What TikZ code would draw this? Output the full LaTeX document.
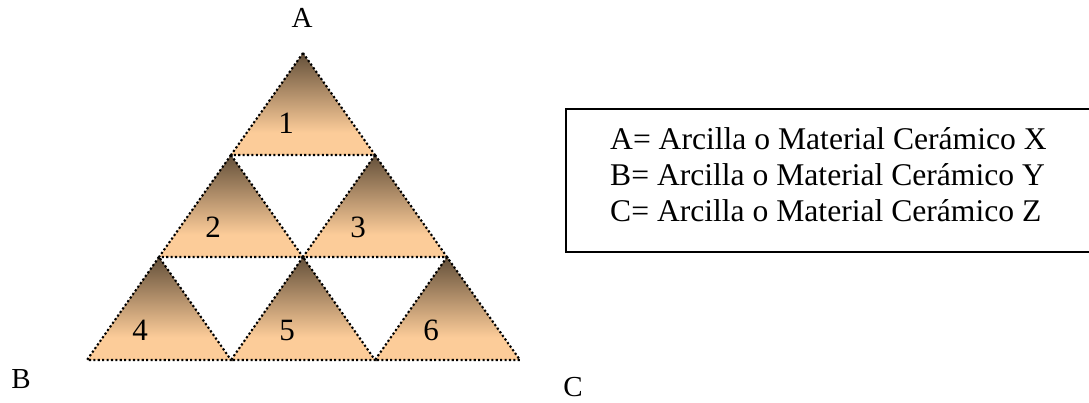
\documentclass[tikz,border=0pt]{standalone}
\usepackage{fontspec}
\setmainfont{Liberation Serif}
\definecolor{peach}{RGB}{252,204,153}
\definecolor{tbrown}{RGB}{100,80,58}
\pgfdeclareverticalshading{trishade}{100bp}{color(0bp)=(peach); color(25bp)=(peach); color(36bp)=(peach); color(75bp)=(tbrown); color(100bp)=(tbrown)}
\begin{document}
\begin{tikzpicture}[x=1pt,y=-1pt,
  tri/.style={shading=trishade, draw=black, line width=2.1pt, dash pattern=on 2.1pt off 2.3pt},
  lbl/.style={font=\fontsize{29}{34}\selectfont, inner sep=0pt, anchor=base},
  num/.style={font=\fontsize{31}{36}\selectfont, inner sep=0pt, anchor=base},
  legtext/.style={font=\fontsize{31.6}{36}\selectfont, inner sep=0pt, anchor=base west},
  legend/.style={draw=black, line width=1.4pt}]
\useasboundingbox (0,0) rectangle (1089,402);
% vertices
\coordinate (A1) at (303,53);
\coordinate (L1) at (231,155); \coordinate (R1) at (375,155);
\coordinate (L2) at (159,257); \coordinate (M2) at (303,257); \coordinate (R2) at (447,257);
\coordinate (L3) at (87,360); \coordinate (M3a) at (231,360); \coordinate (M3b) at (375,360); \coordinate (R3) at (520,360);
% triangles
\path[tri] (A1) -- (L1) -- (R1) -- cycle;
\path[tri] (L1) -- (L2) -- (M2) -- cycle;
\path[tri] (R1) -- (M2) -- (R2) -- cycle;
\path[tri] (L2) -- (L3) -- (M3a) -- cycle;
\path[tri] (M2) -- (M3a) -- (M3b) -- cycle;
\path[tri] (R2) -- (M3b) -- (R3) -- cycle;
% numbers
\node[num] (n1) at (286,133) {1};
\node[num] (n2) at (213,237) {2};
\node[num] (n3) at (358,237) {3};
\node[num] (n4) at (140,340) {4};
\node[num] (n5) at (287,340) {5};
\node[num] (n6) at (431,340) {6};
% corner labels
\node[lbl] (la) at (302,27) {A};
\node[lbl] (lb) at (21,388) {B};
\node[lbl] (lc) at (573,396) {C};
% legend
\draw[legend] (1092,109) -- (566,109) -- (566,252) -- (1092,252);
\node[legtext] (t1) at (610,149) {A= Arcilla o Material Cerámico X};
\node[legtext] (t2) at (610,185) {B= Arcilla o Material Cerámico Y};
\node[legtext] (t3) at (610,221) {C= Arcilla o Material Cerámico Z};
\end{tikzpicture}
\end{document}
